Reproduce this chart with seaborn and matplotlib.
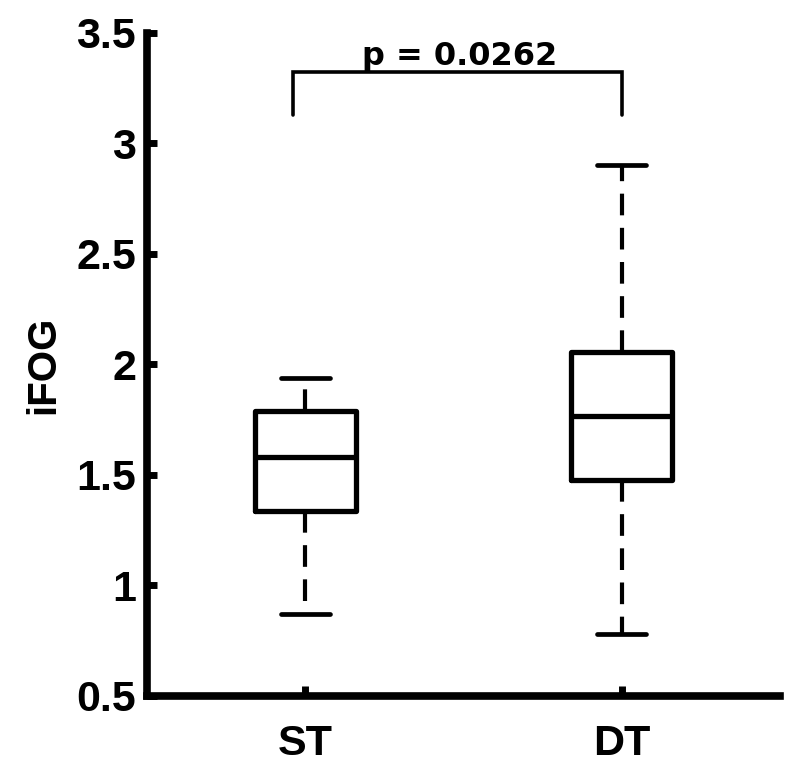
import numpy as np
import pandas as pd
import matplotlib
matplotlib.use("Agg")
import matplotlib.pyplot as plt
import seaborn as sns

# values: low whisker, q1, median, q3, high whisker
st_values = [0.871, 1.338, 1.580, 1.791, 1.938]
dt_values = [0.781, 1.477, 1.767, 2.057, 2.900]
groups = ["ST", "DT"]
y_ticks = [0.5, 1, 1.5, 2, 2.5, 3, 3.5]
y_tick_labels = ["0.5", "1", "1.5", "2", "2.5", "3", "3.5"]
p_text = "p = 0.0262"

df = pd.DataFrame({
    "group": ["ST"] * len(st_values) + ["DT"] * len(dt_values),
    "iFOG": st_values + dt_values,
})

sns.set_style("ticks")
plt.rcParams["font.family"] = ["Liberation Sans", "DejaVu Sans"]
plt.rcParams["font.weight"] = "bold"
plt.rcParams["text.color"] = "black"
plt.rcParams["axes.labelcolor"] = "black"
plt.rcParams["xtick.color"] = "black"
plt.rcParams["ytick.color"] = "black"

fig = plt.figure(figsize=(8, 7.82), dpi=100)
ax = fig.add_axes([0.184, 0.110, 0.791, 0.848])

sns.boxplot(data=df, x="group", y="iFOG", order=groups, ax=ax,
            fill=False, color="black", width=0.318, whis=(0, 100),
            linewidth=3.8, capwidths=0.155,
            whiskerprops={"linestyle": (0, (5.2, 3.0)), "linewidth": 3.0},
            capprops={"linewidth": 3.4},
            medianprops={"linewidth": 3.8, "color": "black"})

# significance bracket
ax.plot([-0.038, -0.038, 1.0, 1.0], [3.129, 3.325, 3.325, 3.129],
        color="black", lw=2.6, solid_joinstyle="miter", clip_on=False)
ax.text(0.488, 3.353, p_text, ha="center", va="baseline",
        fontsize=23, fontweight="bold", family="DejaVu Sans")

ax.set_xlim(-0.5, 1.5)
ax.set_ylim(0.5, 3.5)
ax.set_yticks(y_ticks)
ax.set_yticklabels(y_tick_labels)
ax.set_xlabel("")
ax.set_ylabel("iFOG", fontsize=29, fontweight="bold", labelpad=10)

sns.despine(ax=ax)
for side in ["left", "bottom"]:
    ax.spines[side].set_linewidth(5.5)
    ax.spines[side].set_color("black")
ax.tick_params(axis="both", direction="in", length=7, width=5, color="black",
               labelcolor="black", labelsize=31)
ax.tick_params(axis="x", pad=20)
ax.tick_params(axis="y", pad=8)
for lab in ax.get_xticklabels() + ax.get_yticklabels():
    lab.set_fontweight("bold")

fig.savefig("out.png", dpi=100)
